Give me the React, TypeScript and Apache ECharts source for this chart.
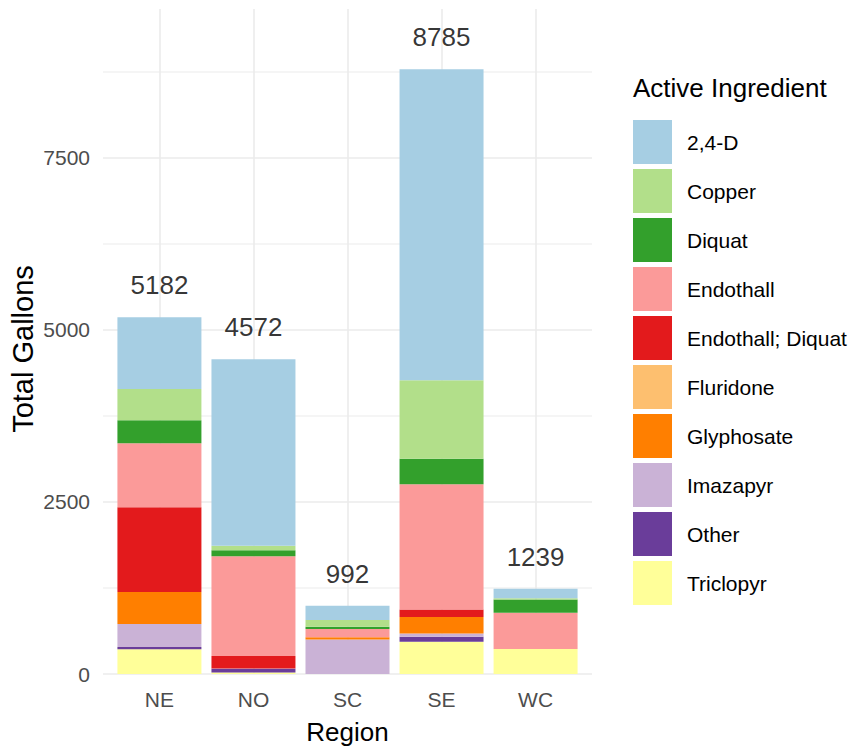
import React, { useEffect, useRef } from "react";
import * as echarts from "echarts";

const regions = ["NE", "NO", "SC", "SE", "WC"];
const regionPos = [1, 2, 3, 4, 5];
const totals = [5182, 4572, 992, 8785, 1239];

const ingredients = [
  "2,4-D",
  "Copper",
  "Diquat",
  "Endothall",
  "Endothall; Diquat",
  "Fluridone",
  "Glyphosate",
  "Imazapyr",
  "Other",
  "Triclopyr",
];
const colors = [
  "#A6CEE3",
  "#B2DF8A",
  "#33A02C",
  "#FB9A99",
  "#E31A1C",
  "#FDBF6F",
  "#FF7F00",
  "#CAB2D6",
  "#6A3D9A",
  "#FFFF99",
];

const d24 = [1043, 2710, 209, 4519, 137];
const copper = [454, 63, 95, 1141, 19];
const diquat = [334, 87, 35, 367, 194];
const endothall = [928, 1451, 118, 1820, 526];
const endoDiquat = [1233, 181, 0, 110, 0];
const fluridone = [0, 0, 0, 0, 0];
const glyphosate = [465, 0, 35, 240, 0];
const imazapyr = [333, 5, 500, 48, 0];
const other = [34, 55, 0, 70, 0];
const triclopyr = [358, 20, 0, 470, 363];

const valuesByIngredient = [
  d24,
  copper,
  diquat,
  endothall,
  endoDiquat,
  fluridone,
  glyphosate,
  imazapyr,
  other,
  triclopyr,
];

const yTicks = [0, 2500, 5000, 7500];
const Y_MAX = 9660;

const FONT = "'Liberation Sans', Arial, Helvetica, sans-serif";

export default function App() {
  const ref = useRef<HTMLDivElement>(null);
  useEffect(() => {
    if (!ref.current) return;
    const chart = echarts.init(ref.current, null, { renderer: "svg" });

    const barSeries: any[] = [];
    for (let i = ingredients.length - 1; i >= 0; i--) {
      barSeries.push({
        type: "bar",
        name: ingredients[i],
        stack: "total",
        barWidth: 84,
        z: 2,
        xAxisIndex: 0,
        yAxisIndex: 0,
        itemStyle: { color: colors[i] },
        data: valuesByIngredient[i],
      });
    }

    chart.setOption({
      animation: false,
      backgroundColor: "#ffffff",
      textStyle: { fontFamily: FONT },
      grid: [
        {
          left: 112.4,
          right: 272.4,
          top: 9,
          bottom: 72,
          containLabel: false,
          outerBoundsMode: "none",
        },
        {
          left: 103,
          right: 263,
          top: 9,
          bottom: 72,
          containLabel: false,
          outerBoundsMode: "none",
        },
      ],
      xAxis: [
        {
          type: "category",
          gridIndex: 0,
          data: regions,
          axisLine: { show: false },
          axisTick: { show: false },
          splitLine: { show: false },
          axisLabel: {
            color: "#4D4D4D",
            fontSize: 21,
            lineHeight: 21,
            margin: 15,
            fontFamily: FONT,
          },
          name: "Region",
          nameLocation: "middle",
          nameGap: 45,
          nameTextStyle: { color: "#000", fontSize: 26, lineHeight: 26, fontFamily: FONT },
        },
        {
          type: "value",
          gridIndex: 1,
          min: 0.4,
          max: 5.6,
          show: false,
        },
      ],
      yAxis: [
        {
          type: "value",
          gridIndex: 0,
          min: 0,
          max: Y_MAX,
          show: false,
          splitLine: { show: false },
        },
        {
          type: "value",
          gridIndex: 1,
          min: 0,
          max: Y_MAX,
          interval: 1250,
          axisLine: { show: false },
          axisTick: { show: false },
          axisLabel: {
            color: "#4D4D4D",
            fontSize: 21,
            margin: 13,
            showMaxLabel: false,
            fontFamily: FONT,
            formatter: (v: number) => (yTicks.indexOf(v) >= 0 ? String(v) : ""),
          },
          splitLine: {
            show: true,
            showMaxLine: false,
            lineStyle: { color: ["#EBEBEB", "#F2F2F2"], width: 1.6 },
          },
        },
      ],
      legend: {
        orient: "vertical",
        left: 633,
        top: 120,
        padding: 0,
        itemWidth: 39,
        itemHeight: 44,
        itemGap: 5,
        icon: "rect",
        data: ingredients,
        textStyle: {
          fontSize: 21,
          color: "#000",
          fontFamily: FONT,
          padding: [0, 0, 0, 10],
        },
      },
      graphic: [
        {
          type: "text",
          left: 633,
          top: 75,
          style: {
            text: "Active Ingredient",
            fontSize: 26,
            fontFamily: FONT,
            fill: "#000",
          },
        },
        {
          type: "text",
          x: 23,
          y: 349,
          rotation: Math.PI / 2,
          style: {
            text: "Total Gallons",
            fontSize: 29,
            fontFamily: FONT,
            fill: "#000",
            align: "center",
            verticalAlign: "middle",
          },
        },
      ],
      series: [
        ...barSeries,
        {
          type: "scatter",
          name: "totals",
          xAxisIndex: 0,
          yAxisIndex: 0,
          symbolSize: 0,
          z: 3,
          data: totals,
          label: {
            show: true,
            position: "top",
            distance: 19,
            fontSize: 26,
            lineHeight: 26,
            color: "#000",
            fontFamily: FONT,
            formatter: (p: any) => String(p.value),
          },
        },
        {
          type: "scatter",
          name: "gridlines",
          xAxisIndex: 1,
          yAxisIndex: 1,
          symbolSize: 0,
          silent: true,
          z: 1,
          data: regionPos.map((x) => [x, 0]),
          markLine: {
            silent: true,
            z: 1,
            symbol: ["none", "none"],
            label: { show: false },
            lineStyle: { color: "#EBEBEB", width: 1.6, type: "solid" },
            data: regionPos.map((x) => ({ xAxis: x })),
          },
        },
      ],
    });
    return () => chart.dispose();
  }, []);
  return (
    <div
      ref={ref}
      style={{ position: "fixed", left: 0, top: 0, width: 855, height: 746 }}
    />
  );
}
